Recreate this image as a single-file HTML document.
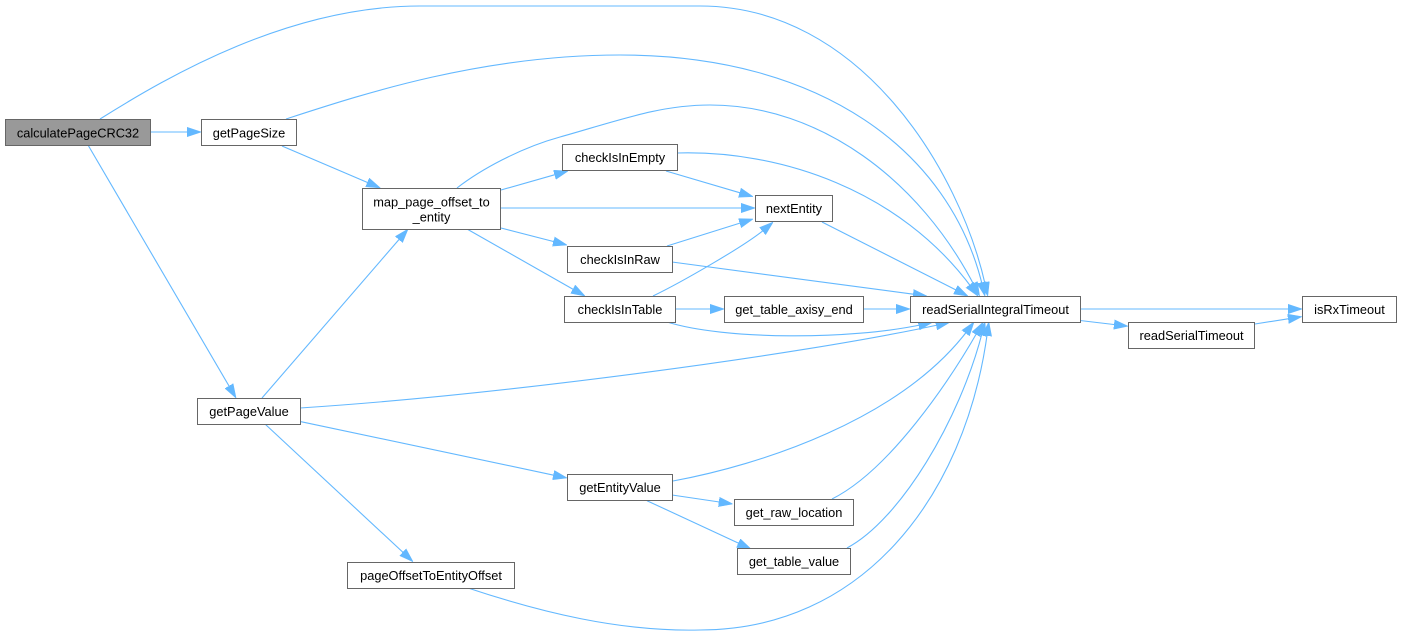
<!DOCTYPE html>
<html>
<head>
<meta charset="utf-8">
<style>
  html,body{margin:0;padding:0;background:#fff;}
  svg{display:block;}
  .n{fill:#fff;stroke:#666;stroke-width:1;}
  .t{font-family:"Liberation Sans",Arial,sans-serif;font-size:12.8px;fill:#000;text-anchor:middle;}
  .e{fill:none;stroke:#63b8ff;stroke-width:1.1;}
</style>
</head>
<body>
<svg width="1401" height="635" viewBox="0 0 1401 635" xmlns="http://www.w3.org/2000/svg">
  <defs>
    <marker id="a" markerUnits="userSpaceOnUse" markerWidth="14" markerHeight="10" viewBox="0 0 14 10" refX="4" refY="5" orient="auto">
      <path d="M0,0.3 L14,5 L0,9.7 z" fill="#63b8ff" stroke="#63b8ff" stroke-width="0.6"/>
    </marker>
  </defs>

  <!-- edges -->
  <g class="e" marker-end="url(#a)">
    <path d="M100,119 C170,75 290,6 420,6 L700,6 C860,6 960,170 985.6,286.3"/>
    <path d="M150,132 L191,132"/>
    <path d="M88,145 L231,389.4"/>
    <path d="M286,119 C360,95 480,55 620,55 C820,55 950,150 982.6,286.3"/>
    <path d="M282,146 L371,184"/>
    <path d="M457,188 C480,170 520,148 560,137 C620,120 660,105 710,105 C820,105 920,180 975,287"/>
    <path d="M501,190 L558.4,173.7"/>
    <path d="M501,208 L745,208"/>
    <path d="M501,228 L557.3,242.5"/>
    <path d="M467,229 L576.3,291.1"/>
    <path d="M677,153 C780,150 900,190 972,288"/>
    <path d="M666,171 L743.4,193.8"/>
    <path d="M667,246 L743.5,222"/>
    <path d="M672,262 L917,294.7"/>
    <path d="M653,296 C680,283 745,246 765.5,228.6"/>
    <path d="M675,309 L714,309"/>
    <path d="M667,322 C725,340 850,340 922.5,324.5"/>
    <path d="M822,222 L959,291.5"/>
    <path d="M863,309 L900,309"/>
    <path d="M1080,309 L1292,309"/>
    <path d="M1080,320.5 L1118,325"/>
    <path d="M1255,324 L1292,318.2"/>
    <path d="M262,398 L401.5,236.6"/>
    <path d="M300,408 C500,395 800,355 940,324.5"/>
    <path d="M301,421.7 L557.2,475.9"/>
    <path d="M265,424 L405.7,554.9"/>
    <path d="M673,481 C760,465 900,420 968,330"/>
    <path d="M672,495 L722.8,502.5"/>
    <path d="M647,500.7 L741.9,544.8"/>
    <path d="M832,499 C890,470 950,380 978,331"/>
    <path d="M847,548 C900,520 960,420 982.5,331.5"/>
    <path d="M468,588 C540,612 620,632 700,630 C860,630 965,500 987.5,331.8"/>
  </g>

  <!-- nodes -->
  <rect x="5.5" y="119.5" width="145" height="26" fill="#999999" stroke="#666" stroke-width="1"/>
  <text class="t" x="78" y="137.5">calculatePageCRC32</text>

  <rect class="n" x="201.5" y="119.5" width="95" height="26"/>
  <text class="t" x="249" y="137.5">getPageSize</text>

  <rect class="n" x="362.5" y="188.5" width="138" height="41"/>
  <text class="t" x="431.5" y="206.5">map_page_offset_to</text>
  <text class="t" x="431.5" y="221.5">_entity</text>

  <rect class="n" x="562.5" y="144.5" width="115" height="26"/>
  <text class="t" x="620" y="162">checkIsInEmpty</text>

  <rect class="n" x="755.5" y="195.5" width="77" height="26"/>
  <text class="t" x="794" y="213">nextEntity</text>

  <rect class="n" x="567.5" y="246.5" width="105" height="26"/>
  <text class="t" x="620" y="264">checkIsInRaw</text>

  <rect class="n" x="564.5" y="296.5" width="111" height="26"/>
  <text class="t" x="620" y="314">checkIsInTable</text>

  <rect class="n" x="724.5" y="296.5" width="139" height="26"/>
  <text class="t" x="794" y="314">get_table_axisy_end</text>

  <rect class="n" x="910.5" y="296.5" width="170" height="26"/>
  <text class="t" x="995.5" y="314">readSerialIntegralTimeout</text>

  <rect class="n" x="1302.5" y="296.5" width="94" height="26"/>
  <text class="t" x="1349.5" y="314">isRxTimeout</text>

  <rect class="n" x="1128.5" y="322.5" width="126" height="26"/>
  <text class="t" x="1191.5" y="340">readSerialTimeout</text>

  <rect class="n" x="197.5" y="398.5" width="103" height="26"/>
  <text class="t" x="249" y="416">getPageValue</text>

  <rect class="n" x="567.5" y="474.5" width="105" height="26"/>
  <text class="t" x="620" y="492">getEntityValue</text>

  <rect class="n" x="734.5" y="499.5" width="119" height="26"/>
  <text class="t" x="794" y="517">get_raw_location</text>

  <rect class="n" x="737.5" y="548.5" width="113" height="26"/>
  <text class="t" x="794" y="566">get_table_value</text>

  <rect class="n" x="347.5" y="562.5" width="167" height="26"/>
  <text class="t" x="431" y="580">pageOffsetToEntityOffset</text>
</svg>
</body>
</html>
